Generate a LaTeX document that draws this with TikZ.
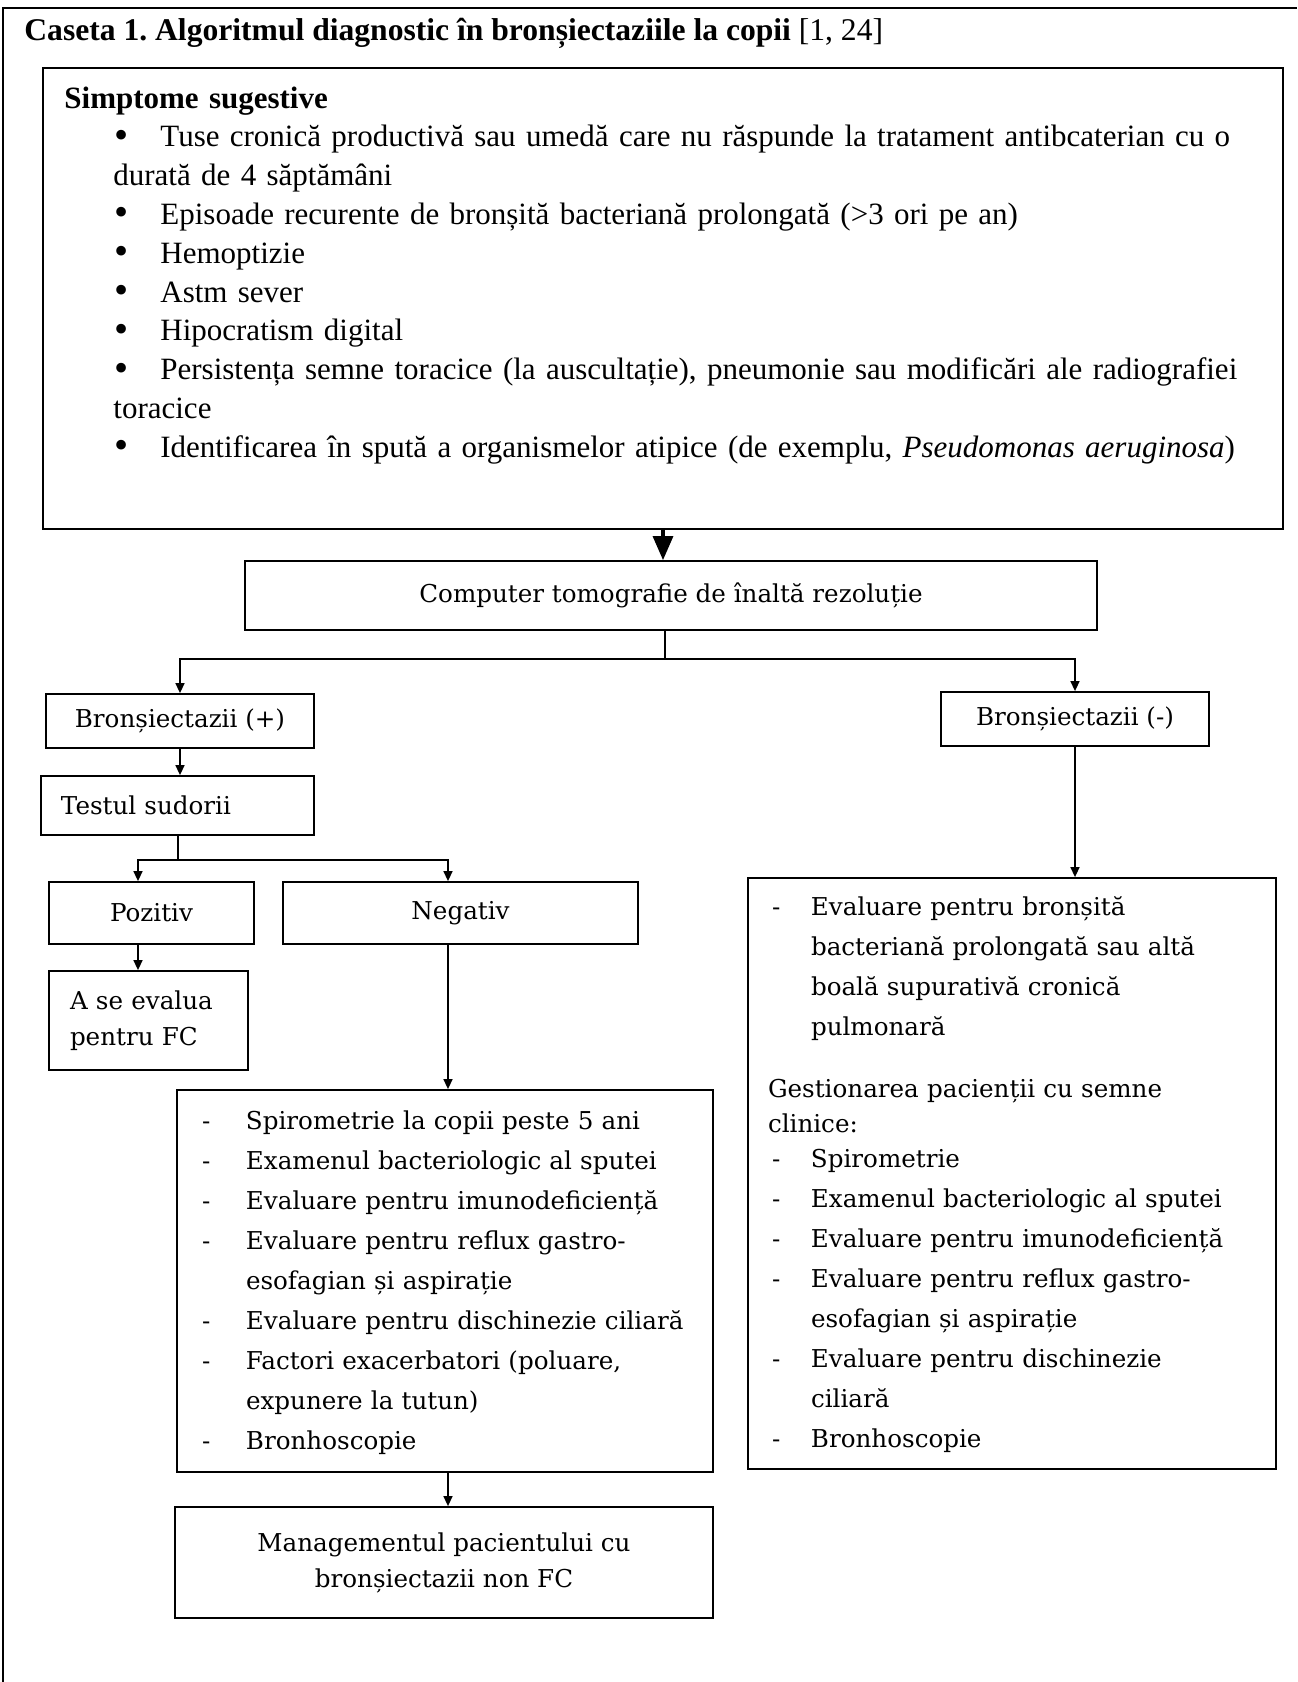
\documentclass[tikz,border=0pt]{standalone}
\usepackage{fontspec}
\newfontfamily\timesfont{Liberation Serif}
\newfontfamily\schoolfont{DejaVu Serif}
\usetikzlibrary{arrows.meta,positioning}
\frenchspacing

\newcommand\bodyfont{\schoolfont\fontsize{12.3}{20}\selectfont}
\newcommand\tightfont{\schoolfont\fontsize{12.3}{18}\selectfont}
\newcommand\topfont{\timesfont\fontsize{15.5}{19.4}\selectfont}
\newcommand\bul{\hspace*{0.8pt}\makebox[22.7pt][l]{\raisebox{-0.1ex}{\scalebox{1.3}{•}}}}

\begin{document}
\begin{tikzpicture}[
  x=0.5pt, y=-0.5pt,
  box/.style={draw, line width=0.9pt, inner sep=0pt, font=\bodyfont, align=center},
  listbox/.style={box, align=left},
  link/.style={line width=0.7pt},
  line/.style={link, -{Triangle[length=5pt,width=4.5pt]}},
  bigline/.style={line width=1.6pt, -{Triangle[length=12pt,width=10pt]}}
]
\useasboundingbox (0,0) rectangle (1297,1682);

% frame and title
\draw[line width=1pt] (3,1682) -- (3,8) -- (1297,8);
\node[anchor=base west, inner sep=0pt, font=\timesfont\fontsize{15.8}{18}\selectfont] (title) at (24,40)
  {\textbf{Caseta 1. Algoritmul diagnostic în bronșiectaziile la copii} [1, 24]};

% symptoms
\node[box, minimum width=620pt, minimum height=230.5pt] (top) at (663,298.5) {};
\node[anchor=base west, inner sep=0pt, text width=612pt, align=left, font=\topfont] (symptoms) at (64,108) {%
  \textbf{Simptome sugestive}\par
  \leftskip=24.5pt
  \bul Tuse cronică productivă sau umedă care nu răspunde la tratament antibcaterian cu o\\
  durată de 4 săptămâni\\
  \bul Episoade recurente de bronșită bacteriană prolongată (>3 ori pe an)\\
  \bul Hemoptizie\\
  \bul Astm sever\\
  \bul Hipocratism digital\\
  \bul Persistența semne toracice (la auscultație), pneumonie sau modificări ale radiografiei\\
  toracice\\
  \bul Identificarea în spută a organismelor atipice (de exemplu, \textit{Pseudomonas aeruginosa})\par};

\node[box, minimum width=426pt, minimum height=34.5pt] (ct) at (671,595.5) {Computer tomografie de înaltă rezoluție};

% positive branch
\node[box, minimum width=134pt, minimum height=27pt] (bplus) at (180,721) {Bronșiectazii (+)};
\node[listbox, inner xsep=10pt, text width=116.5pt, minimum height=29.5pt] (sweat) at (177.5,805.5) {Testul sudorii};
\node[box, minimum width=102.5pt, minimum height=31pt] (pos) at (151.5,913) {Pozitiv};
\node[box, minimum width=177.5pt, minimum height=31pt] (neg) at (460.5,913) {Negativ};
\node[listbox, font=\tightfont, inner xsep=10.5pt, text width=78.5pt, minimum height=49.5pt] (evalfc) at (148.5,1020.5) {A se evalua\\pentru FC};
\node[listbox, inner xsep=12.5pt, text width=243pt, minimum height=191pt] (tests) at (445,1281) {%
  \begin{tabular}{@{}p{22pt}@{}l@{}}
  - & Spirometrie la copii peste 5 ani\\
  - & Examenul bacteriologic al sputei\\
  - & Evaluare pentru imunodeficiență\\
  - & Evaluare pentru reflux gastro-\\
    & esofagian și aspirație\\
  - & Evaluare pentru dischinezie ciliară\\
  - & Factori exacerbatori (poluare,\\
    & expunere la tutun)\\
  - & Bronhoscopie
  \end{tabular}};
\node[box, font=\tightfont, minimum width=269pt, minimum height=55.5pt] (mgmt) at (444,1562.5) {Managementul pacientului cu\\bronșiectazii non FC};

% negative branch
\node[box, minimum width=134pt, minimum height=27pt] (bminus) at (1075,719) {Bronșiectazii (-)};
\node[listbox, inner xsep=10pt, text width=244pt, minimum height=295.5pt] (rbox) at (1012,1173.5) {%
  \begin{tabular}{@{\hspace{2pt}}p{19.5pt}@{}l@{}}
  - & Evaluare pentru bronșită\\
    & bacteriană prolongată sau altă\\
    & boală supurativă cronică\\
    & pulmonară\\[11pt]
  \multicolumn{2}{@{}l@{}}{Gestionarea pacienții cu semne}\\[-2.7pt]
  \multicolumn{2}{@{}l@{}}{clinice:}\\[-2.7pt]
  - & Spirometrie\\
  - & Examenul bacteriologic al sputei\\
  - & Evaluare pentru imunodeficiență\\
  - & Evaluare pentru reflux gastro-\\
    & esofagian și aspirație\\
  - & Evaluare pentru dischinezie\\
    & ciliară\\
  - & Bronhoscopie
  \end{tabular}};

\coordinate (ctsplit) at (665,659);
\coordinate (sweatsplit) at (178,860);

\draw[bigline] (top.south) -- (top.south |- ct.north);
\draw[link] (ct.south -| ctsplit) -- (ctsplit);
\draw[line] (ctsplit) -| (bplus.north);
\draw[line] (ctsplit) -| (bminus.north);
\draw[line] (bplus.south) -- (bplus.south |- sweat.north);
\draw[link] (sweat.south -| sweatsplit) -- (sweatsplit);
\draw[line] (sweatsplit) -| ([xshift=-6.75pt]pos.north);
\draw[line] (sweatsplit) -| ([xshift=-6.25pt]neg.north);
\draw[line] ([xshift=-6.75pt]pos.south) -- ([xshift=-6.75pt]pos.south |- evalfc.north);
\draw[line] ([xshift=-6.25pt]neg.south) -- ([xshift=-6.25pt]neg.south |- tests.north);
\draw[line] ([xshift=1.5pt]tests.south) -- ([xshift=1.5pt]tests.south |- mgmt.north);
\draw[line] (bminus.south) -- (bminus.south |- rbox.north);
\end{tikzpicture}
\end{document}
